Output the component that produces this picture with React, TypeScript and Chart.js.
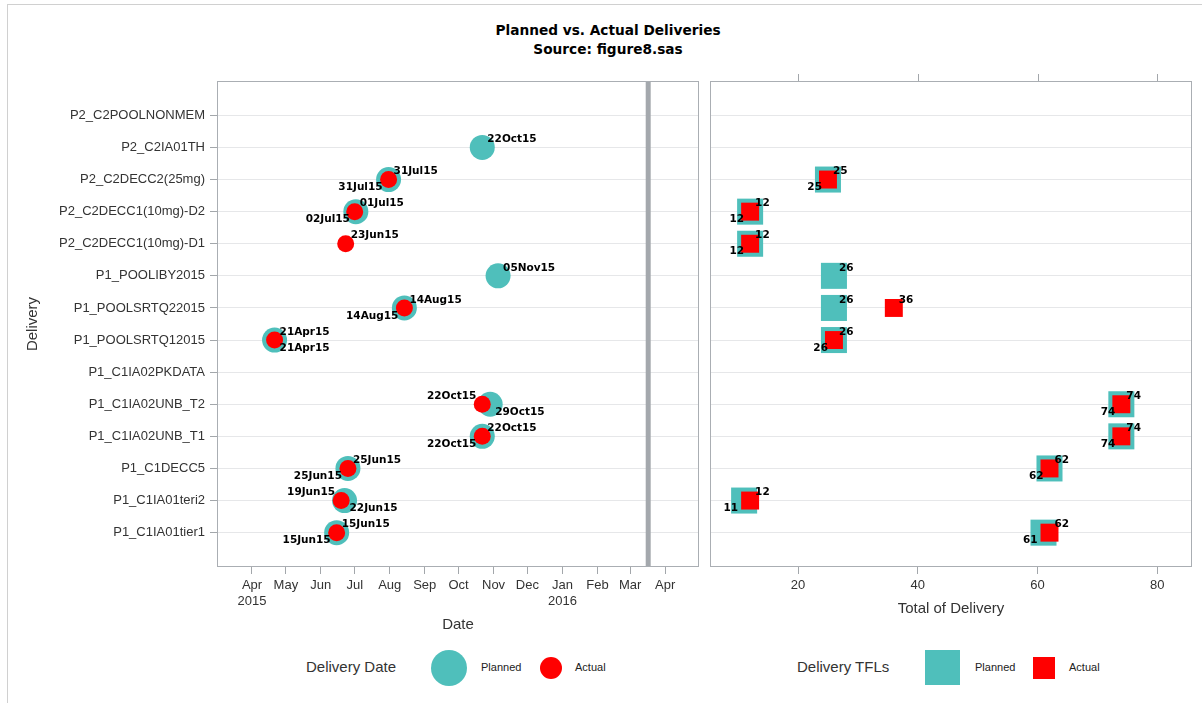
import React, { useEffect, useRef } from 'react';
import { Chart, registerables } from 'chart.js';

Chart.register(...registerables);

// ---------------- data ----------------
const categories = [
  'P2_C2POOLNONMEM',
  'P2_C2IA01TH',
  'P2_C2DECC2(25mg)',
  'P2_C2DECC1(10mg)-D2',
  'P2_C2DECC1(10mg)-D1',
  'P1_POOLIBY2015',
  'P1_POOLSRTQ22015',
  'P1_POOLSRTQ12015',
  'P1_C1IA02PKDATA',
  'P1_C1IA02UNB_T2',
  'P1_C1IA02UNB_T1',
  'P1_C1DECC5',
  'P1_C1IA01teri2',
  'P1_C1IA01tier1',
];

const plannedDates: (string | null)[] = [
  null, '2015-10-22', '2015-07-31', '2015-07-02', null, '2015-11-05', '2015-08-14',
  '2015-04-21', null, '2015-10-29', '2015-10-22', '2015-06-25', '2015-06-22', '2015-06-15',
];
const actualDates: (string | null)[] = [
  null, null, '2015-07-31', '2015-07-01', '2015-06-23', null, '2015-08-14',
  '2015-04-21', null, '2015-10-22', '2015-10-22', '2015-06-25', '2015-06-19', '2015-06-15',
];
const plannedTFLs: (number | null)[] = [null, null, 25, 12, 12, 26, 26, 26, null, 74, 74, 62, 11, 61];
const actualTFLs: (number | null)[] = [null, null, 25, 12, 12, null, 36, 26, null, 74, 74, 62, 12, 62];

// label placement (u/l = upper/lower, r/l = right/left of marker)
const plannedDateLabelPos = [null, 'ur', 'll', 'll', null, 'ur', 'll', 'lr', null, 'lr', 'll', 'll', 'lr', 'll'];
const actualDateLabelPos = [null, null, 'ur', 'ur', 'ur', null, 'ur', 'ur', null, 'ul', 'ur', 'ur', 'ul', 'ur'];
const plannedTFLLabelPos = [null, null, 'll', 'll', 'll', 'ur', 'ur', 'll', null, 'll', 'll', 'll', 'll', 'll'];
const actualTFLLabelPos = [null, null, 'ur', 'ur', 'ur', null, 'ur', 'ur', null, 'ur', 'ur', 'ur', 'ur', 'ur'];

const monthTicks = [
  '2015-04-01', '2015-05-01', '2015-06-01', '2015-07-01', '2015-08-01', '2015-09-01', '2015-10-01',
  '2015-11-01', '2015-12-01', '2016-01-01', '2016-02-01', '2016-03-01', '2016-04-01',
];
const dateAxisMin = '2015-03-01';
const dateAxisMax = '2016-05-01';
const referenceDate = '2016-03-17';

const tflTicks = [20, 40, 60, 80];
const tflMin = 5.3;
const tflMax = 85.8;

// ---------------- styles ----------------
const TEAL = '#4FBFBB';
const RED = '#FF0000';
const FRAME = '#AAAEB3';
const GRID = '#E6E7E9';
const TICK = '#A3A7AB';
const TEXT = '#333333';
const FONT = '"Liberation Sans", Arial, sans-serif';
const LABEL_FONT = 'bold 10.5px "DejaVu Sans", sans-serif';
const MONTHS = ['Jan', 'Feb', 'Mar', 'Apr', 'May', 'Jun', 'Jul', 'Aug', 'Sep', 'Oct', 'Nov', 'Dec'];

const toDay = (s: string) => {
  const [y, m, d] = s.split('-').map(Number);
  return Date.UTC(y, m - 1, d) / 86400000;
};
const fmtDate = (s: string) => {
  const [y, m, d] = s.split('-').map(Number);
  return String(d).padStart(2, '0') + MONTHS[m - 1] + String(y % 100).padStart(2, '0');
};
const monthLabel = (day: number) => {
  const dt = new Date(day * 86400000);
  const m = dt.getUTCMonth();
  const y = dt.getUTCFullYear();
  const lbl = MONTHS[m];
  if ((y === 2015 && m === 3) || m === 0) return [lbl, String(y)];
  return lbl;
};

// ---------------- plugins ----------------
const framePlugin = {
  id: 'frame',
  beforeDatasetsDraw(chart: any) {
    const { ctx, chartArea: a } = chart;
    ctx.save();
    ctx.strokeStyle = FRAME;
    ctx.lineWidth = 1;
    ctx.strokeRect(a.left + 0.5, a.top + 0.5, a.right - a.left - 1, a.bottom - a.top - 1);
    ctx.restore();
  },
};

const refLinePlugin = {
  id: 'refLine',
  beforeDatasetsDraw(chart: any) {
    const { ctx, chartArea: a, scales } = chart;
    const x = scales.x.getPixelForValue(toDay(referenceDate));
    ctx.save();
    ctx.strokeStyle = '#A4A8AD';
    ctx.lineWidth = 5;
    ctx.beginPath();
    ctx.moveTo(x, a.top + 1);
    ctx.lineTo(x, a.bottom - 1);
    ctx.stroke();
    ctx.restore();
  },
};

const topTicksPlugin = {
  id: 'topTicks',
  afterDraw(chart: any) {
    const { ctx, chartArea: a, scales } = chart;
    ctx.save();
    ctx.strokeStyle = TICK;
    ctx.lineWidth = 1;
    tflTicks.forEach((v) => {
      const x = Math.round(scales.x.getPixelForValue(v)) + 0.5;
      ctx.beginPath();
      ctx.moveTo(x, a.top - 7);
      ctx.lineTo(x, a.top);
      ctx.stroke();
    });
    ctx.restore();
  },
};

const pointLabelsPlugin = {
  id: 'pointLabels',
  afterDatasetsDraw(chart: any) {
    const ctx = chart.ctx;
    ctx.save();
    ctx.font = LABEL_FONT;
    ctx.fillStyle = '#000';
    ctx.textBaseline = 'middle';
    chart.data.datasets.forEach((ds: any, di: number) => {
      const meta = chart.getDatasetMeta(di);
      meta.data.forEach((el: any, j: number) => {
        const raw = ds.data[j];
        const i = raw.y;
        const pos = ds.labelPos[i];
        if (!pos) return;
        const text = ds.labelText[i];
        const right = pos[1] === 'r';
        const up = pos[0] === 'u';
        ctx.textAlign = right ? 'left' : 'right';
        ctx.fillText(text, el.x + (right ? 5 : -6), el.y + (up ? -8 : 8));
      });
    });
    ctx.restore();
  },
};

const yRange = { min: -1.07, max: 14.07 };

function buildPoints(vals: (any | null)[], conv: (v: any) => number) {
  const pts: { x: number; y: number }[] = [];
  vals.forEach((v, i) => {
    if (v !== null && v !== undefined) pts.push({ x: conv(v), y: i });
  });
  return pts;
}

export default function App() {
  const leftRef = useRef<HTMLCanvasElement>(null);
  const rightRef = useRef<HTMLCanvasElement>(null);

  useEffect(() => {
    const left = new Chart(leftRef.current as HTMLCanvasElement, {
      type: 'scatter',
      data: {
        datasets: [
          {
            label: 'Planned',
            order: 2,
            data: buildPoints(plannedDates, toDay),
            pointRadius: 12.5,
            pointHoverRadius: 12.5,
            backgroundColor: TEAL,
            borderWidth: 0,
            labelPos: plannedDateLabelPos,
            labelText: plannedDates.map((d) => (d ? fmtDate(d) : '')),
          } as any,
          {
            label: 'Actual',
            order: 1,
            data: buildPoints(actualDates, toDay),
            pointRadius: 8.5,
            pointHoverRadius: 8.5,
            backgroundColor: RED,
            borderWidth: 0,
            labelPos: actualDateLabelPos,
            labelText: actualDates.map((d) => (d ? fmtDate(d) : '')),
          } as any,
        ],
      },
      options: {
        animation: false,
        responsive: false,
        maintainAspectRatio: false,
        events: [],
        layout: { autoPadding: false, padding: { left: 0, right: 5, top: 81, bottom: 0 } },
        plugins: { legend: { display: false }, tooltip: { enabled: false } },
        scales: {
          x: {
            type: 'linear',
            min: toDay(dateAxisMin),
            max: toDay(dateAxisMax),
            afterBuildTicks: (s: any) => {
              s.ticks = monthTicks.map((m) => ({ value: toDay(m) }));
            },
            afterFit: (s: any) => {
              s.height = 73;
            },
            ticks: {
              autoSkip: false,
              maxRotation: 0,
              minRotation: 0,
              padding: 4,
              color: TEXT,
              font: { family: FONT, size: 13 },
              callback: (v: any) => monthLabel(Number(v)),
            },
            grid: { drawOnChartArea: false, drawTicks: true, tickLength: 7, color: TICK, tickColor: TICK },
            border: { display: false },
            title: {
              display: true,
              text: 'Date',
              color: TEXT,
              font: { family: FONT, size: 15 },
              padding: { top: 0, bottom: 6 },
            },
          },
          y: {
            type: 'linear',
            reverse: true,
            min: yRange.min,
            max: yRange.max,
            afterBuildTicks: (s: any) => {
              s.ticks = categories.map((_, i) => ({ value: i }));
            },
            afterFit: (s: any) => {
              s.width = 217;
            },
            ticks: {
              autoSkip: false,
              padding: 5,
              color: TEXT,
              font: { family: FONT, size: 13 },
              callback: (v: any) => categories[Number(v)],
            },
            grid: { color: GRID, tickColor: TICK, tickLength: 7, drawTicks: true },
            border: { display: false },
            title: {
              display: true,
              text: 'Delivery',
              color: TEXT,
              font: { family: FONT, size: 15 },
              padding: { top: 24, bottom: 0 },
            },
          },
        },
      } as any,
      plugins: [framePlugin, refLinePlugin, pointLabelsPlugin],
    });

    const right = new Chart(rightRef.current as HTMLCanvasElement, {
      type: 'scatter',
      data: {
        datasets: [
          {
            label: 'Planned',
            order: 2,
            data: buildPoints(plannedTFLs, (v) => v),
            pointStyle: 'rect',
            pointRadius: 18.4,
            pointHoverRadius: 18.4,
            backgroundColor: TEAL,
            borderWidth: 0,
            labelPos: plannedTFLLabelPos,
            labelText: plannedTFLs.map((v) => (v === null ? '' : String(v))),
          } as any,
          {
            label: 'Actual',
            order: 1,
            data: buildPoints(actualTFLs, (v) => v),
            pointStyle: 'rect',
            pointRadius: 12.7,
            pointHoverRadius: 12.7,
            backgroundColor: RED,
            borderWidth: 0,
            labelPos: actualTFLLabelPos,
            labelText: actualTFLs.map((v) => (v === null ? '' : String(v))),
          } as any,
        ],
      },
      options: {
        animation: false,
        responsive: false,
        maintainAspectRatio: false,
        events: [],
        layout: { autoPadding: false, padding: { left: 0, right: 10, top: 81, bottom: 0 } },
        plugins: { legend: { display: false }, tooltip: { enabled: false } },
        scales: {
          x: {
            type: 'linear',
            min: tflMin,
            max: tflMax,
            afterBuildTicks: (s: any) => {
              s.ticks = tflTicks.map((v) => ({ value: v }));
            },
            afterFit: (s: any) => {
              s.height = 73;
            },
            ticks: {
              autoSkip: false,
              maxRotation: 0,
              minRotation: 0,
              padding: 4,
              color: TEXT,
              font: { family: FONT, size: 13 },
            },
            grid: { drawOnChartArea: false, drawTicks: true, tickLength: 7, color: TICK, tickColor: TICK },
            border: { display: false },
            title: {
              display: true,
              text: 'Total of Delivery',
              color: TEXT,
              font: { family: FONT, size: 15 },
              padding: { top: 0, bottom: 22 },
            },
          },
          y: {
            type: 'linear',
            reverse: true,
            min: yRange.min,
            max: yRange.max,
            afterBuildTicks: (s: any) => {
              s.ticks = categories.map((_, i) => ({ value: i }));
            },
            afterFit: (s: any) => {
              s.width = 6;
            },
            ticks: { display: false },
            grid: { color: GRID, drawTicks: false, tickLength: 0 },
            border: { display: false },
          },
        },
      } as any,
      plugins: [framePlugin, topTicksPlugin, pointLabelsPlugin],
    });

    return () => {
      left.destroy();
      right.destroy();
    };
  }, []);

  const txt = (extra: React.CSSProperties): React.CSSProperties => ({
    position: 'absolute',
    fontFamily: FONT,
    color: TEXT,
    whiteSpace: 'nowrap',
    ...extra,
  });

  return (
    <div style={{ position: 'absolute', left: 0, top: 0, width: 1202, height: 703, background: '#fff', overflow: 'hidden' }}>
      <div
        style={{
          position: 'absolute',
          left: 7,
          top: 4,
          width: 1202,
          height: 710,
          borderTop: '1px solid #D0D0D0',
          borderLeft: '1px solid #D0D0D0',
        }}
      />
      <div
        style={{
          position: 'absolute',
          left: 308,
          top: 21,
          width: 600,
          textAlign: 'center',
          font: 'bold 13.7px "DejaVu Sans", sans-serif',
          lineHeight: '18.5px',
          color: '#000',
        }}
      >
        <div>Planned vs. Actual Deliveries</div>
        <div>Source: figure8.sas</div>
      </div>

      <canvas ref={leftRef} width={704} height={640} style={{ position: 'absolute', left: 0, top: 0, width: 704, height: 640 }} />
      <canvas ref={rightRef} width={498} height={640} style={{ position: 'absolute', left: 704, top: 0, width: 498, height: 640 }} />

      {/* left legend */}
      <div style={txt({ left: 306, top: 657, fontSize: 15, lineHeight: '20px' })}>Delivery Date</div>
      <div style={{ position: 'absolute', left: 431, top: 650, width: 36, height: 36, borderRadius: '50%', background: TEAL }} />
      <div style={txt({ left: 481, top: 659, fontSize: 11, lineHeight: '16px', color: '#222' })}>Planned</div>
      <div style={{ position: 'absolute', left: 540, top: 657, width: 22, height: 22, borderRadius: '50%', background: RED }} />
      <div style={txt({ left: 575, top: 659, fontSize: 11, lineHeight: '16px', color: '#222' })}>Actual</div>

      {/* right legend */}
      <div style={txt({ left: 797, top: 657, fontSize: 15, lineHeight: '20px' })}>Delivery TFLs</div>
      <div style={{ position: 'absolute', left: 925, top: 650, width: 35, height: 35, background: TEAL }} />
      <div style={txt({ left: 975, top: 659, fontSize: 11, lineHeight: '16px', color: '#222' })}>Planned</div>
      <div style={{ position: 'absolute', left: 1033, top: 657, width: 22, height: 22, background: RED }} />
      <div style={txt({ left: 1069, top: 659, fontSize: 11, lineHeight: '16px', color: '#222' })}>Actual</div>
    </div>
  );
}
